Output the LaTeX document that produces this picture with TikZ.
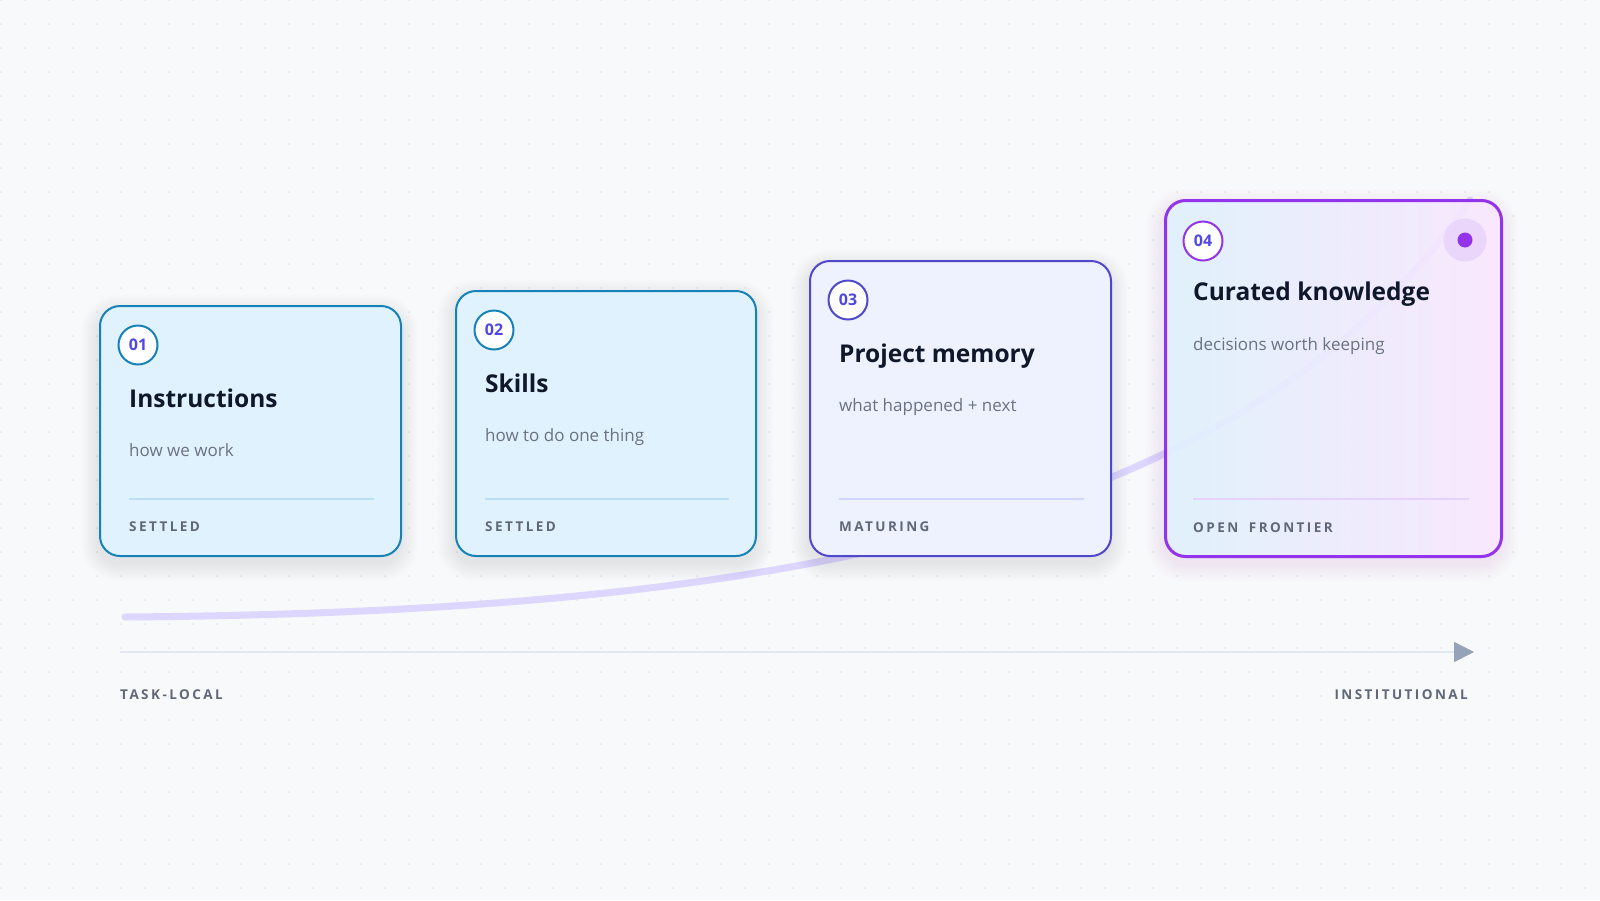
\documentclass[tikz,border=0pt]{standalone}
\usepackage{fontspec}
\setmainfont{Open Sans}
\newfontfamily\tagfont{Open Sans}[LetterSpace=18, WordSpace=1.8]
\usetikzlibrary{calc, positioning, arrows.meta}

\definecolor{page}{HTML}{F8F9FB}
\definecolor{griddot}{HTML}{E2E5EA}
\definecolor{ink}{HTML}{0F172A}
\definecolor{subink}{HTML}{6B7280}
\definecolor{tagink}{HTML}{5F6778}
\definecolor{numink}{HTML}{4F46E5}
\definecolor{skyline}{HTML}{1682B8}
\definecolor{skyfill}{HTML}{E0F2FE}
\definecolor{skyrule}{HTML}{BAE0F8}
\definecolor{indline}{HTML}{5048CC}
\definecolor{indfill}{HTML}{EEF2FF}
\definecolor{indrule}{HTML}{D0D6FB}
\definecolor{purline}{HTML}{9333EA}
\definecolor{purfill}{HTML}{FAE8FF}
\definecolor{purrule}{HTML}{E6D3FB}
\definecolor{halo}{HTML}{EBD6FB}
\definecolor{trendc}{HTML}{DDD6FE}
\definecolor{axisc}{HTML}{E2E8F0}
\definecolor{tipc}{HTML}{94A3B8}

% soft shadow under a card: x, y, width, height, colour
\newcommand{\softshadow}[5]{%
  \foreach \k [evaluate=\k as \rc using 20+1.8*\k] in {1,...,10}
    \fill[#5, opacity=0.008, rounded corners=\rc pt]
      (#1-1.8*\k, #2+8-1.8*\k) rectangle (#1+#3+1.8*\k, #2+#4+8+1.8*\k);}

\begin{document}
\begin{tikzpicture}[x=1pt, y=-1pt,
  card/.style={draw, rounded corners=20pt, line width=2pt, anchor=north west, inner sep=0pt},
  badge/.style={circle, draw, fill=white, line width=2pt, minimum size=39pt, inner sep=0pt,
    text=numink, font=\fontsize{16}{16}\selectfont\bfseries},
  title/.style={anchor=base west, inner sep=0pt, text=ink, font=\fontsize{24.5}{28}\selectfont\bfseries},
  sub/.style={anchor=base west, inner sep=0pt, text=subink, font=\fontsize{17}{20}\selectfont},
  tag/.style={anchor=base west, inner sep=0pt, text=tagink,
    font=\tagfont\fontsize{13.5}{16}\selectfont\bfseries},
  rule/.style={line width=1.5pt},
  trend/.style={line width=7pt, line cap=round, trendc},
]
  \useasboundingbox (0,0) rectangle (1600,900);
  \fill[page] (0,0) rectangle (1600,900);
  \foreach \i in {0,...,66}
    \foreach \j in {0,...,37}
      \fill[griddot] (24*\i+1, 24*\j) circle (1pt);

  % growth curve behind the cards
  \coordinate (lo) at (125,617);
  \coordinate (hi) at (1470,200);
  \draw[trend] (lo) .. controls (800,612) and (1250,520) .. (hi);

  % axis
  \coordinate (axL) at (120,652);
  \coordinate (axR) at (1474,652);
  \draw[axisc, line width=1.5pt, -{Triangle[length=20pt, width=20pt, color=tipc]}] (axL) -- (axR);
  \node[tag] (local) at (120,699) {TASK-LOCAL};
  \node[tag, anchor=base east] (inst) at (1468,699) {INSTITUTIONAL};

  % shadows
  \softshadow{99}{305}{301}{250}{black}
  \softshadow{455}{290}{300}{265}{black}
  \softshadow{809}{260}{301}{295}{black}
  \softshadow{1164}{199}{336}{356}{purline}

  % 01
  \node[card, draw=skyline, fill=skyfill, minimum width=301pt, minimum height=250pt] (c1) at (99,305) {};
  \node[badge, draw=skyline] (n1) at ($(c1.north west)+(39,40)$) {01};
  \node[title] (t1) at ($(c1.north west)+(30,102)$) {Instructions};
  \node[sub] (s1) at ($(c1.north west)+(30,151)$) {how we work};
  \draw[rule, skyrule] ($(c1.south west)+(30,-58)$) -- ($(c1.south east)+(-28,-58)$);
  \node[tag] (f1) at ($(c1.south west)+(30,-26)$) {SETTLED};

  % 02
  \node[card, draw=skyline, fill=skyfill, minimum width=300pt, minimum height=265pt] (c2) at (455,290) {};
  \node[badge, draw=skyline] (n2) at ($(c2.north west)+(39,40)$) {02};
  \node[title] (t2) at ($(c2.north west)+(30,102)$) {Skills};
  \node[sub] (s2) at ($(c2.north west)+(30,151)$) {how to do one thing};
  \draw[rule, skyrule] ($(c2.south west)+(30,-58)$) -- ($(c2.south east)+(-28,-58)$);
  \node[tag] (f2) at ($(c2.south west)+(30,-26)$) {SETTLED};

  % 03
  \node[card, draw=indline, fill=indfill, minimum width=301pt, minimum height=295pt] (c3) at (809,260) {};
  \node[badge, draw=indline] (n3) at ($(c3.north west)+(39,40)$) {03};
  \node[title] (t3) at ($(c3.north west)+(30,102)$) {Project memory};
  \node[sub] (s3) at ($(c3.north west)+(30,151)$) {what happened + next};
  \draw[rule, indrule] ($(c3.south west)+(30,-58)$) -- ($(c3.south east)+(-28,-58)$);
  \node[tag] (f3) at ($(c3.south west)+(30,-26)$) {MATURING};

  % 04
  \node[card, draw=purline, line width=3pt, left color=skyfill, right color=purfill, fill opacity=0.92,
    minimum width=336pt, minimum height=356pt] (c4) at (1164,199) {};
  \node[badge, draw=purline] (n4) at ($(c4.north west)+(39,42)$) {04};
  \node[circle, fill=halo, minimum size=43pt, inner sep=0pt] (glow) at ($(c4.north east)+(-38,41)$) {};
  \node[circle, fill=purline, minimum size=15pt, inner sep=0pt] (dot) at (glow) {};
  \node[title] (t4) at ($(c4.north west)+(29,101)$) {Curated knowledge};
  \node[sub] (s4) at ($(c4.north west)+(29,151)$) {decisions worth keeping};
  \draw[rule, purrule] ($(c4.south west)+(29,-59)$) -- ($(c4.south east)+(-34,-59)$);
  \node[tag] (f4) at ($(c4.south west)+(29,-26)$) {OPEN FRONTIER};
\end{tikzpicture}
\end{document}
